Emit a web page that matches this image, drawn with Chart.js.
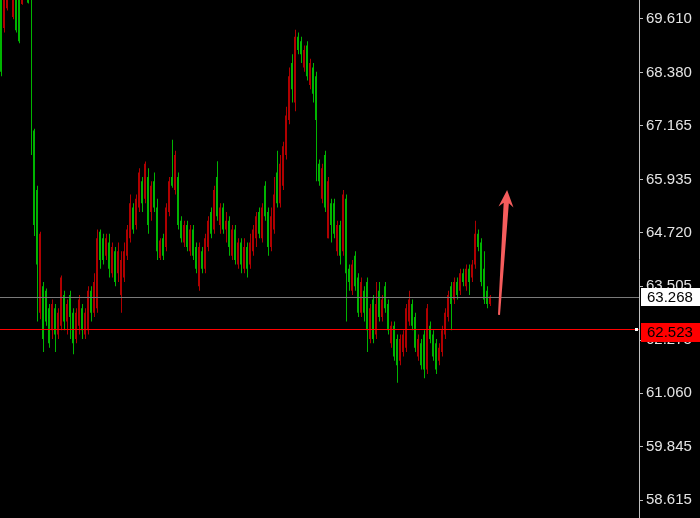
<!DOCTYPE html>
<html>
<head>
<meta charset="utf-8">
<script src="https://cdn.jsdelivr.net/npm/chart.js@4.4.0/dist/chart.umd.min.js"></script>
<style>
  html, body { margin: 0; padding: 0; background: #000; }
  canvas { display: block; }
</style>
</head>
<body>
<canvas id="chart" width="700" height="518"></canvas>
<script>
// candle data, one entry per bar, oldest first
const opens = [
  70.6, 69.4, 69.85, 70.6, 69.65, 70.5, 70.3, 69.95, 70.5, 70.4,
  70.3, 67.06, 65.7, 62.9, 63.5, 63.4, 63.0, 62.5, 63.0, 62.4,
  62.6, 63.3, 62.7, 63.3, 62.9, 62.3, 62.6, 63.0, 62.4, 62.5,
  63.4, 62.9, 63.0, 64.75, 64.6, 64.2, 64.5, 63.8, 64.3, 63.8,
  63.3, 63.7, 64.2, 64.6, 65.3, 64.9, 65.3, 65.9, 65.5, 66.0,
  65.2, 65.9, 65.3, 64.15, 64.6, 64.4, 65.2, 66.0, 65.7, 66.0,
  65.0, 64.5, 64.9, 64.3, 64.8, 64.4, 63.5, 64.3, 63.9, 64.4,
  65.2, 64.8, 66.0, 64.9, 65.3, 64.8, 65.0, 64.2, 64.8, 64.0,
  64.5, 63.9, 64.4, 64.0, 64.3, 64.6, 65.2, 64.6, 65.8, 65.2,
  64.4, 64.8, 66.1, 65.4, 65.8, 66.5, 67.3, 68.6, 67.7, 69.2,
  69.1, 68.5, 69.0, 68.1, 68.5, 68.3, 66.3, 65.5, 66.5, 64.6,
  65.4, 65.4, 64.3, 64.9, 64.3, 65.5, 63.9, 63.4, 64.2, 63.7,
  62.9, 63.4, 63.6, 62.3, 63.2, 62.4, 63.4, 62.8, 63.5, 63.1,
  62.2, 62.6, 62.3, 61.8, 62.0, 62.1, 62.7, 63.1, 62.8, 61.9,
  62.2, 62.4, 61.6, 62.6, 62.4, 62.2, 61.8, 62.0, 62.4, 62.8,
  63.5, 63.2, 63.6, 63.4, 63.8, 63.5, 63.9, 63.7, 64.0, 64.7,
  64.5, 63.9, 63.4, 63.1
];
const highs = [
  70.8, 70.6, 70.7, 70.8, 70.5, 70.7, 70.4, 70.5, 70.6, 70.5,
  70.5, 67.1, 65.8, 64.75, 63.6, 63.45, 63.1, 63.2, 63.1, 63.0,
  63.75, 63.4, 63.2, 63.4, 63.0, 63.0, 63.3, 63.1, 63.0, 63.5,
  63.5, 63.8, 64.8, 64.8, 64.7, 64.7, 64.7, 64.5, 64.4, 64.5,
  64.3, 64.5, 64.9, 65.6, 65.4, 65.6, 66.2, 66.0, 66.35, 66.2,
  65.9, 66.1, 65.5, 64.6, 64.7, 65.4, 66.0, 66.85, 66.6, 66.1,
  65.1, 65.0, 65.0, 64.9, 64.9, 64.5, 64.5, 64.4, 64.7, 65.1,
  65.3, 65.8, 66.36, 65.4, 65.4, 65.2, 65.1, 64.9, 64.9, 64.6,
  64.6, 64.6, 64.5, 64.7, 64.9, 65.2, 65.3, 65.4, 65.9, 65.3,
  65.3, 66.0, 66.6, 66.5, 66.8, 67.6, 68.5, 68.8, 69.36, 69.3,
  69.2, 69.0, 69.1, 68.7, 68.6, 68.4, 66.4, 66.3, 66.6, 66.0,
  65.5, 65.5, 65.0, 65.0, 65.7, 65.6, 64.0, 64.1, 64.3, 63.8,
  63.7, 63.5, 63.7, 63.1, 63.3, 63.6, 63.6, 63.3, 63.6, 63.2,
  62.7, 62.7, 62.4, 62.4, 62.5, 63.1, 63.4, 63.2, 62.9, 62.4,
  62.3, 62.5, 63.1, 62.7, 62.5, 62.3, 62.2, 62.6, 63.0, 63.4,
  63.6, 63.7, 63.7, 63.9, 63.9, 64.0, 64.0, 64.1, 65.0, 64.8,
  64.6, 64.3, 63.5, 63.3
];
const lows = [
  68.3, 69.3, 69.8, 70.1, 69.6, 69.3, 69.05, 69.93, 70.1, 69.96,
  66.5, 64.65, 62.7, 62.75, 62.0, 62.6, 62.1, 62.3, 62.0, 62.3,
  62.5, 62.5, 62.4, 62.3, 61.95, 62.2, 62.4, 62.3, 62.3, 62.4,
  62.7, 62.8, 62.9, 63.9, 64.0, 64.1, 63.7, 63.7, 63.5, 63.6,
  62.9, 63.6, 64.1, 64.5, 64.7, 64.8, 65.2, 65.2, 65.4, 64.7,
  65.0, 65.2, 64.1, 64.1, 64.1, 64.3, 65.1, 65.75, 65.6, 64.8,
  64.5, 64.4, 64.3, 64.2, 64.1, 63.8, 63.4, 63.8, 63.8, 64.3,
  64.6, 64.7, 65.0, 64.7, 64.7, 64.5, 64.2, 64.1, 64.0, 63.9,
  63.8, 63.8, 63.7, 63.9, 64.2, 64.4, 64.6, 64.5, 65.0, 64.2,
  64.3, 64.7, 65.3, 65.3, 65.7, 66.4, 67.2, 67.7, 67.5, 68.8,
  68.6, 68.4, 68.2, 68.0, 67.7, 65.9, 65.8, 65.4, 65.2, 64.6,
  64.5, 64.6, 64.2, 64.0, 64.2, 62.7, 63.4, 63.3, 63.4, 62.8,
  62.8, 62.7, 62.0, 62.2, 62.2, 62.3, 62.7, 62.7, 62.9, 62.4,
  62.1, 61.8, 61.3, 61.7, 61.9, 62.0, 62.6, 62.5, 62.0, 61.8,
  61.6, 61.4, 61.5, 62.2, 61.8, 61.5, 61.7, 61.9, 62.3, 62.7,
  62.5, 63.1, 63.2, 63.3, 63.5, 63.4, 63.3, 63.6, 63.9, 64.3,
  63.5, 63.1, 63.0, 63.05
];
const closes = [
  68.4, 70.4, 70.5, 70.2, 70.4, 69.35, 69.1, 70.4, 70.2, 69.98,
  70.05, 64.9, 64.0, 64.7, 62.3, 62.7, 62.2, 63.1, 62.4, 62.9,
  63.7, 62.7, 63.1, 62.8, 62.2, 62.9, 63.2, 62.5, 62.9, 63.4,
  62.9, 63.6, 64.6, 64.1, 64.1, 64.6, 63.9, 64.4, 63.6, 64.3,
  64.1, 64.3, 64.8, 65.4, 64.8, 65.5, 66.1, 65.4, 66.3, 64.9,
  65.8, 65.3, 64.3, 64.55, 64.2, 65.3, 65.9, 65.8, 66.5, 64.9,
  64.6, 64.9, 64.4, 64.8, 64.2, 63.9, 64.4, 63.9, 64.6, 65.0,
  64.7, 65.7, 65.1, 65.3, 64.8, 65.0, 64.4, 64.8, 64.1, 64.5,
  64.0, 64.4, 63.9, 64.5, 64.8, 65.1, 64.7, 65.3, 65.1, 64.4,
  65.1, 65.6, 65.4, 66.3, 66.7, 67.4, 68.3, 68.0, 69.2, 68.9,
  68.8, 68.9, 68.3, 68.6, 67.9, 67.3, 65.9, 66.2, 65.3, 65.9,
  64.9, 64.7, 64.9, 64.2, 65.6, 63.8, 63.6, 64.0, 63.5, 62.9,
  63.6, 62.9, 62.5, 63.0, 62.3, 63.1, 62.8, 63.2, 63.0, 62.5,
  62.6, 61.9, 61.7, 62.3, 62.4, 63.0, 63.2, 62.6, 62.1, 62.3,
  61.7, 61.6, 63.0, 62.3, 61.9, 61.6, 62.1, 62.5, 62.9, 63.3,
  63.1, 63.6, 63.3, 63.8, 63.6, 63.9, 63.6, 64.0, 64.7, 64.4,
  63.6, 63.2, 63.1, 63.27
];

const priceTicks = [69.61, 68.38, 67.165, 65.935, 64.72, 63.505, 62.275, 61.06, 59.845, 58.615];
const bidPrice = 63.268;
const levelPrice = 62.523;
// arrow drawn on the chart: [bar index, price]
const arrowFrom = [166, 62.85];
const arrowTo = [168.7, 65.7];

const slotCount = 213;   // bar slots across the plot, incl. the empty right margin
const UP = "#b00000";
const DOWN = "#00b400";
const AXIS_FONT = { family: "Liberation Sans", size: 15 };

const barColors = closes.map((c, i) => (c > opens[i] ? UP : DOWN));
const bodies = opens.map((o, i) => ({ x: i, y: [Math.min(o, closes[i]), Math.max(o, closes[i])] }));
const wicks = highs.map((h, i) => ({ x: i, y: [lows[i], h] }));

const overlay = {
    id: "overlay",
    afterDatasetsDraw(chart) {
        const ctx = chart.ctx;
        const area = chart.chartArea;
        const xs = chart.scales.x;
        const ys = chart.scales.y;

        ctx.save();
        // bid line and level line, 1px rects so they stay crisp
        const yBid = Math.round(ys.getPixelForValue(bidPrice));
        const yLvl = Math.round(ys.getPixelForValue(levelPrice));
        ctx.fillStyle = "#7a7a7a";
        ctx.fillRect(area.left, yBid, area.right - area.left, 1);
        ctx.fillStyle = "#ff0000";
        ctx.fillRect(area.left, yLvl, area.right - area.left, 1);
        ctx.fillStyle = "#ffffff";
        ctx.fillRect(area.right - 4, yLvl - 1, 3, 3);

        // arrow
        const x1 = xs.getPixelForValue(arrowFrom[0]);
        const y1 = ys.getPixelForValue(arrowFrom[1]);
        const x2 = xs.getPixelForValue(arrowTo[0]);
        const y2 = ys.getPixelForValue(arrowTo[1]);
        const len = Math.hypot(x2 - x1, y2 - y1);
        ctx.translate(x1, y1);
        ctx.rotate(Math.atan2(y2 - y1, x2 - x1));
        ctx.fillStyle = "rgb(245, 92, 92)";
        ctx.beginPath();
        ctx.moveTo(0, -1);
        ctx.lineTo(len - 13, -2.6);
        ctx.lineTo(len - 17, -7.5);
        ctx.lineTo(len, 0);
        ctx.lineTo(len - 17, 7.5);
        ctx.lineTo(len - 13, 2.6);
        ctx.lineTo(0, 1);
        ctx.closePath();
        ctx.fill();
        ctx.restore();
    },
    afterDraw(chart) {
        const ctx = chart.ctx;
        const area = chart.chartArea;
        const ys = chart.scales.y;
        const yBid = Math.round(ys.getPixelForValue(bidPrice));
        const yLvl = Math.round(ys.getPixelForValue(levelPrice));

        ctx.save();
        ctx.font = AXIS_FONT.size + "px " + AXIS_FONT.family;
        ctx.textBaseline = "middle";

        ctx.fillStyle = "#ffffff";
        ctx.fillRect(area.right + 2, yBid - 9, chart.width - area.right - 2, 18);
        ctx.fillStyle = "#000000";
        ctx.fillText(bidPrice.toFixed(3), area.right + 8, yBid + 1);

        ctx.fillStyle = "#ff0000";
        ctx.fillRect(area.right + 2, yLvl - 6, chart.width - area.right - 2, 19);
        ctx.fillStyle = "#000000";
        ctx.fillText(levelPrice.toFixed(3), area.right + 8, yLvl + 4);
        ctx.restore();
    }
};

new Chart(document.getElementById("chart").getContext("2d"), {
    type: "bar",
    data: {
        datasets: [
            {
                label: "wick",
                data: wicks,
                xAxisID: "xw",
                backgroundColor: barColors,
                barThickness: 1,
                grouped: false,
                borderWidth: 0,
                inflateAmount: 0,
                clip: 0
            },
            {
                label: "body",
                data: bodies,
                xAxisID: "x",
                backgroundColor: barColors,
                barThickness: 2,
                grouped: false,
                borderWidth: 0,
                inflateAmount: 0,
                clip: 0
            }
        ]
    },
    options: {
        responsive: false,
        animation: false,
        layout: { padding: 0 },
        plugins: {
            legend: { display: false },
            tooltip: { enabled: false }
        },
        scales: {
            x: { type: "linear", display: false, offset: false, min: -1 / 3, max: slotCount - 1 / 3 },
            xw: { type: "linear", display: false, offset: false, min: -0.5, max: slotCount - 0.5 },
            y: {
                position: "right",
                min: 58.21,
                max: 70.04,
                bounds: "data",
                afterBuildTicks: s => {
                    s.ticks = priceTicks.slice().sort((a, b) => a - b).map(v => ({ value: v }));
                },
                afterFit: s => {
                    s.width = 61;
                    s.paddingTop = 0;
                    s.paddingBottom = 0;
                },
                ticks: {
                    color: "#e4e4e4",
                    font: AXIS_FONT,
                    padding: 3,
                    autoSkip: false,
                    callback: v => v.toFixed(3)
                },
                grid: { drawOnChartArea: false, drawTicks: true, tickLength: 4, color: "#c0c0c0" },
                border: { display: true, color: "#c0c0c0" }
            }
        }
    },
    plugins: [overlay]
});
</script>
</body>
</html>
